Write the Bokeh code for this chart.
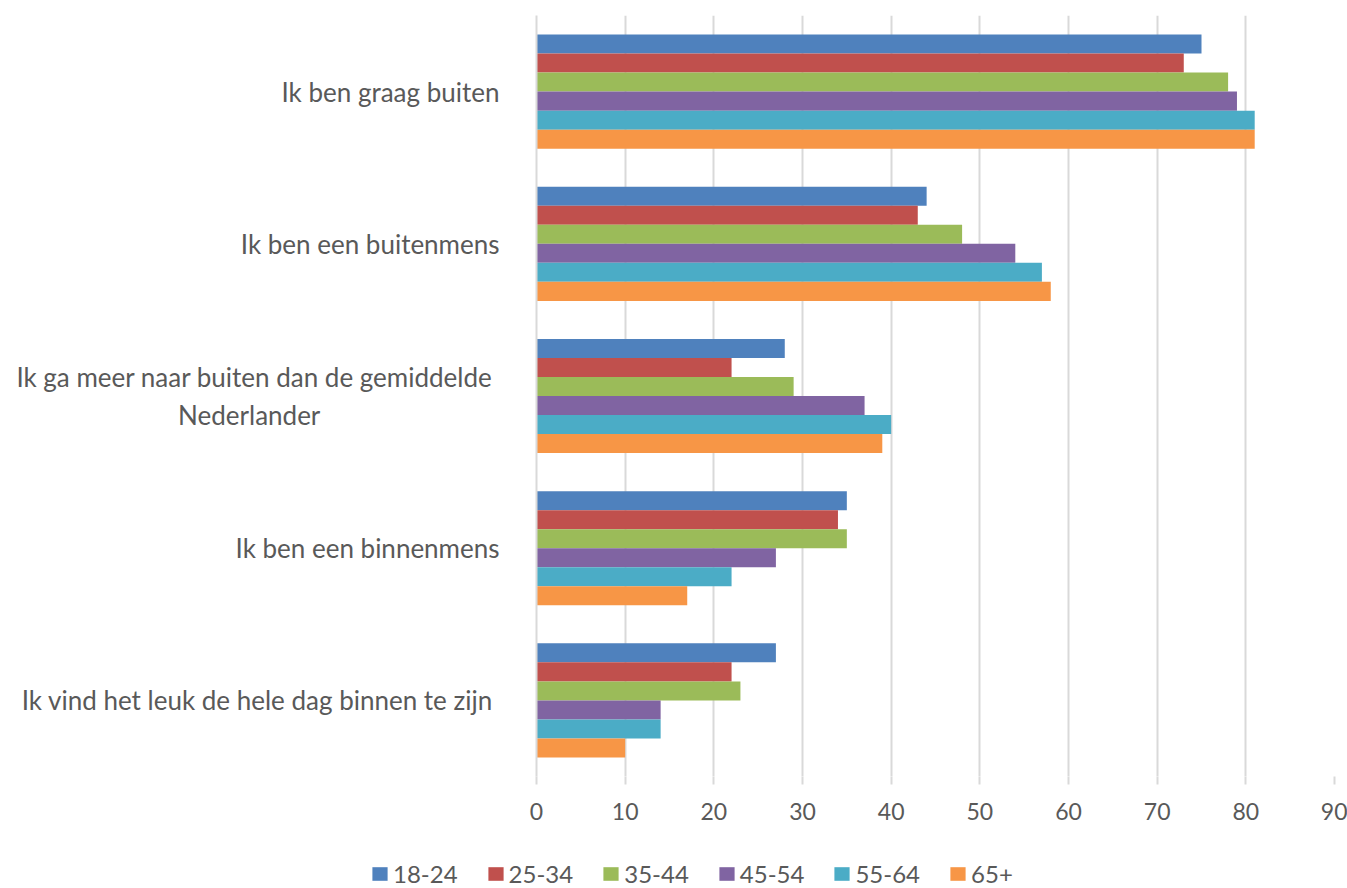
from bokeh.plotting import figure
from bokeh.layouts import column
from bokeh.models import ColumnDataSource, FactorRange, Legend, LegendItem
from bokeh.transform import dodge
from bokeh.embed import file_html
from bokeh.resources import INLINE

categories = [
    "Ik ben graag buiten",
    "Ik ben een buitenmens",
    "Ik ga meer naar buiten  dan de gemiddelde\nNederlander" + "\u00a0" * 27,
    "Ik ben een binnenmens",
    "Ik vind het leuk de hele dag binnen  te zijn",
]
series_names = ["18-24", "25-34", "35-44", "45-54", "55-64", "65+"]
v_18_24 = [75, 44, 28, 35, 27]
v_25_34 = [73, 43, 22, 34, 22]
v_35_44 = [78, 48, 29, 35, 23]
v_45_54 = [79, 54, 37, 27, 14]
v_55_64 = [81, 57, 40, 22, 14]
v_65 = [81, 58, 39, 17, 10]
colors = ["#4F81BD", "#C0504D", "#9BBB59", "#8064A2", "#4BACC6", "#F79646"]
x_ticks = [0, 10, 20, 30, 40, 50, 60, 70, 80, 90]

values = [v_18_24, v_25_34, v_35_44, v_45_54, v_55_64, v_65]
data = {"cat": categories}
keys = []
for i, v in enumerate(values):
    k = "s%d" % i
    keys.append(k)
    data[k] = v
source = ColumnDataSource(data)

FONT = "Lato"
GREY = "#595959"
GRID = "#D9D9D9"

p = figure(
    width=1347, height=860,
    y_range=FactorRange(*categories[::-1], range_padding=0),
    x_range=(0, 90),
    output_backend="svg", toolbar_location=None,
    min_border_left=536, min_border_right=13, min_border_top=15, min_border_bottom=84,
)
p.outline_line_color = None

bar_h = 0.125
for i, k in enumerate(keys):
    off = (2.5 - i) * bar_h
    p.hbar(y=dodge("cat", off, range=p.y_range), right=k, left=0, height=bar_h,
           source=source, fill_color=colors[i], line_color=None)

p.xaxis.ticker = x_ticks
p.xaxis.axis_line_color = None
p.xaxis.major_tick_line_color = GRID
p.xaxis.major_tick_line_width = 2
p.xaxis.major_tick_out = 8
p.xaxis.major_tick_in = 0
p.xaxis.minor_tick_line_color = None
p.xaxis.major_label_standoff = 18
p.xaxis.major_label_text_font = FONT
p.xaxis.major_label_text_font_size = "23px"
p.xaxis.major_label_text_color = GREY

p.yaxis.axis_line_color = GRID
p.yaxis.axis_line_width = 2
p.yaxis.major_tick_line_color = None
p.yaxis.minor_tick_line_color = None
p.yaxis.major_label_standoff = 31
p.yaxis.major_label_text_font = FONT
p.yaxis.major_label_text_font_size = "26px"
p.yaxis.major_label_text_color = GREY

p.xgrid.grid_line_color = GRID
p.xgrid.grid_line_width = 2
p.ygrid.grid_line_color = None

# legend strip below the chart
lg = figure(width=1347, height=28, x_range=(0, 1), y_range=(0, 1),
            x_axis_type=None, y_axis_type=None, output_backend="svg",
            toolbar_location=None, min_border=0,
            min_border_left=0, min_border_right=0, min_border_top=0, min_border_bottom=0)
lg.outline_line_color = None
lg.xgrid.grid_line_color = None
lg.ygrid.grid_line_color = None

can_unalign = "frame_align" in lg.properties()
if can_unalign:
    lg.frame_align = False
    p.frame_align = False
    legend_location = (370, 0)
else:
    legend_location = "center"

empty = ColumnDataSource(dict(y=[float("nan")], right=[float("nan")]))
items = []
for i, name in enumerate(series_names):
    r = lg.hbar(y="y", right="right", left=0, height=0.1, source=empty,
                fill_color=colors[i], line_color=None)
    items.append(LegendItem(label=name, renderers=[r]))
legend = Legend(items=items, orientation="horizontal", location=legend_location,
                label_text_font=FONT, label_text_font_size="24px", label_text_color=GREY,
                glyph_width=19, glyph_height=17, label_standoff=4, spacing=28,
                border_line_color=None, background_fill_alpha=0, margin=0, padding=0)
lg.add_layout(legend, "center")

layout = column(p, lg, spacing=0)
open("out.html", "w").write(file_html(layout, INLINE))
